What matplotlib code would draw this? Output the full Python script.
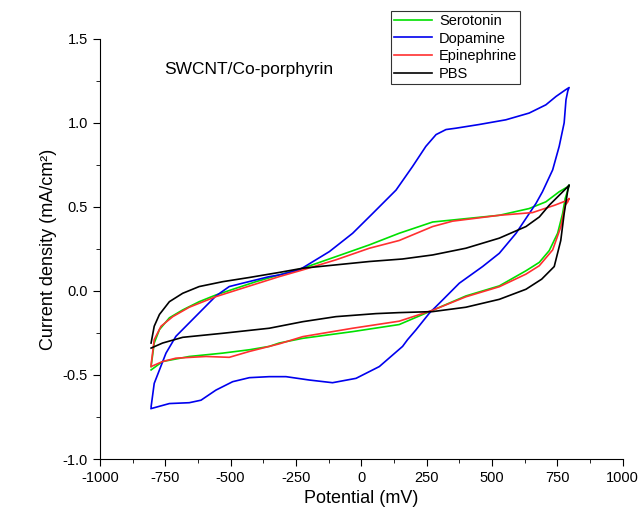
import numpy as np
import matplotlib.pyplot as plt
from matplotlib.ticker import MultipleLocator

plt.rcParams['font.family'] = ['Liberation Sans', 'DejaVu Sans']
plt.rcParams['axes.unicode_minus'] = False

# cyclic voltammograms: each loop = forward (anodic) scan then reverse scan
sero_e = [-804, -792, -772, -734, -683, -620, -556, -479, -403, -314, -224, -97, 31, 145, 273, 400, 528, 642,
          706, 757, 790, 795,
          790, 780, 770, 751, 719, 681, 630, 528, 400, 273, 145, -33, -224, -314, -352, -428, -530,
          -658, -760, -804]
sero_j = [-0.45, -0.31, -0.23, -0.16, -0.113, -0.064, -0.024, 0.016, 0.055, 0.095, 0.135, 0.204, 0.274, 0.343, 0.41,
          0.43, 0.45, 0.49, 0.53, 0.59, 0.62, 0.63,
          0.60, 0.55, 0.46, 0.343, 0.24, 0.17, 0.12, 0.03, -0.03, -0.115, -0.20, -0.242,
          -0.282, -0.31, -0.33, -0.35, -0.37, -0.39, -0.42, -0.47]

dopa_e = [-804, -792, -772, -747, -709, -658, -607, -556, -505, -454, -352, -314, -237, -122, -33, 43, 133, 196, 247,
          286, 324, 362, 451, 553, 642, 706, 745, 780, 795,
          790, 783, 776, 757, 732, 693, 668, 592, 528, 464, 375, 311, 260, 209, 177, 158, 69, -20, -110, -199, -288,
          -352, -428, -492, -556, -613, -658, -734, -804]
dopa_j = [-0.69, -0.55, -0.47, -0.37, -0.27, -0.19, -0.11, -0.03, 0.026, 0.046, 0.085, 0.095, 0.125, 0.234, 0.343,
          0.46, 0.60, 0.74, 0.86, 0.93, 0.96, 0.968, 0.99, 1.018, 1.058, 1.107, 1.157, 1.195, 1.21,
          1.19, 1.137, 1.0, 0.86, 0.72, 0.59, 0.52, 0.343, 0.224, 0.145, 0.046, -0.054, -0.133, -0.232, -0.29,
          -0.33, -0.45, -0.52, -0.546, -0.53, -0.51, -0.51, -0.516, -0.54, -0.59, -0.65, -0.665, -0.67, -0.70]

epi_e = [-804, -792, -766, -721, -658, -556, -467, -314, -224, -97, 31, 145, 273, 349, 426, 528, 655, 740, 790, 795,
         790, 780, 763, 732, 681, 630, 528, 400, 273, 145, -33, -224, -314, -352, -428, -505, -594,
         -709, -760, -804]
epi_j = [-0.44, -0.29, -0.21, -0.153, -0.097, -0.034, 0.01, 0.085, 0.125, 0.185, 0.254, 0.30, 0.383, 0.415, 0.43,
         0.45, 0.466, 0.51, 0.54, 0.55,
         0.53, 0.51, 0.38, 0.244, 0.15, 0.10, 0.025, -0.035, -0.115, -0.18, -0.222, -0.272,
         -0.315, -0.33, -0.36, -0.395, -0.39, -0.40, -0.42, -0.45]

pbs_e = [-804, -792, -772, -734, -683, -620, -530, -428, -314, -224, -97, 31, 158, 273, 400, 528, 630, 681, 719, 790, 795,
         790, 776, 763, 738, 690, 630, 528, 400, 273, 145, 56, -97, -224, -352, -530, -683, -760, -804]
pbs_j = [-0.31, -0.21, -0.14, -0.064, -0.014, 0.026, 0.055, 0.08, 0.11, 0.135, 0.155, 0.175, 0.19, 0.214, 0.254,
         0.314, 0.383, 0.44, 0.51, 0.62, 0.63,
         0.60, 0.46, 0.30, 0.145, 0.07, 0.01, -0.05, -0.097, -0.123, -0.129, -0.135, -0.153, -0.183, -0.222,
         -0.252, -0.276, -0.31, -0.34]

fig = plt.figure(figsize=(6.4, 5.24), dpi=100)
ax = fig.add_axes([0.156, 0.124, 0.817, 0.802])

ax.plot(sero_e, sero_j, color='#00e000', lw=1.2, label='Serotonin')
ax.plot(dopa_e, dopa_j, color='#0000ee', lw=1.2, label='Dopamine')
ax.plot(epi_e, epi_j, color='#ff3030', lw=1.2, label='Epinephrine')
ax.plot(pbs_e, pbs_j, color='black', lw=1.2, label='PBS')

ax.set_xlim(-1000, 1000)
ax.set_ylim(-1.0, 1.5)
ax.xaxis.set_major_locator(MultipleLocator(250))
ax.xaxis.set_minor_locator(MultipleLocator(125))
ax.yaxis.set_major_locator(MultipleLocator(0.5))
ax.yaxis.set_minor_locator(MultipleLocator(0.25))
ax.yaxis.set_major_formatter(plt.FormatStrFormatter('%.1f'))
ax.tick_params(which='major', direction='out', length=5, labelsize=10.5)
ax.tick_params(which='minor', direction='out', length=3)
for s in ['top', 'right']:
    ax.spines[s].set_visible(False)

ax.set_xlabel('Potential (mV)', fontsize=13)
ax.set_ylabel('Current density (mA/cm²)', fontsize=13)
ax.text(-755, 1.32, 'SWCNT/Co-porphyrin', fontsize=12.5, va='center')

leg = ax.legend(loc='upper left', bbox_to_anchor=(0.557, 1.066), frameon=True, fancybox=False,
                edgecolor='black', fontsize=10.5, handlelength=2.6, borderpad=0.2, labelspacing=0.25,
                handletextpad=0.5, borderaxespad=0)
leg.get_frame().set_linewidth(0.8)

fig.savefig('out.png', dpi=100)
